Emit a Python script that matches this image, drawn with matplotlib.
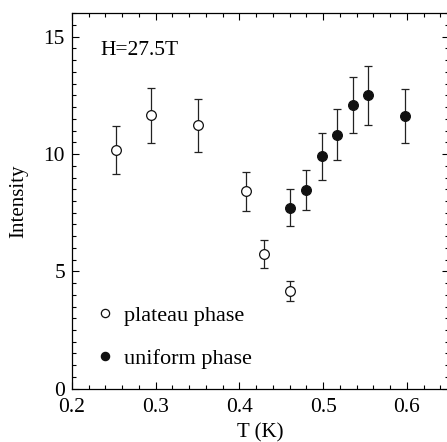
import numpy as np
import matplotlib.pyplot as plt

plt.rcParams['font.family'] = ['Liberation Serif', 'DejaVu Serif']
plt.rcParams['mathtext.fontset'] = 'stix'

# plateau phase (open circles)
T_plateau = [0.253, 0.294, 0.351, 0.408, 0.429, 0.460]
I_plateau = [10.17, 11.65, 11.23, 8.41, 5.74, 4.16]
err_plateau = [1.02, 1.17, 1.13, 0.84, 0.58, 0.43]

# uniform phase (filled circles)
T_uniform = [0.460, 0.479, 0.498, 0.517, 0.536, 0.554, 0.598]
I_uniform = [7.72, 8.48, 9.91, 10.82, 12.09, 12.50, 11.62]
err_uniform = [0.77, 0.85, 1.00, 1.09, 1.21, 1.25, 1.17]

fig = plt.figure(figsize=(4.47, 4.42), dpi=100)
ax = fig.add_axes([0.161, 0.1206, 0.843, 0.8494])

ax.errorbar(T_plateau, I_plateau, yerr=err_plateau, fmt='none',
            ecolor='#222222', elinewidth=0.9, capsize=2.8, capthick=0.9)
ax.errorbar(T_uniform, I_uniform, yerr=err_uniform, fmt='none',
            ecolor='#222222', elinewidth=0.9, capsize=2.8, capthick=0.9)
ax.plot(T_plateau, I_plateau, 'o', ms=7, mfc='white', mec='#111111',
        mew=0.9, ls='none', label='plateau phase', zorder=3)
ax.plot(T_uniform, I_uniform, 'o', ms=7, mfc='#111111', mec='#111111',
        mew=0.9, ls='none', label='uniform phase', zorder=3)

ax.set_xlim(0.2, 0.65)
ax.set_ylim(0, 16)
ax.set_xticks([0.2, 0.3, 0.4, 0.5, 0.6])
ax.set_xticklabels(['0.2', '0.3', '0.4', '0.5', '0.6'])
ax.set_yticks([0, 5, 10, 15])
ax.set_xticks(np.arange(0.2, 0.651, 0.02), minor=True)
ax.set_yticks(np.arange(0, 16.01, 0.5), minor=True)
ax.tick_params(which='both', direction='in', top=True, right=True,
               labelsize=15.5, width=0.8)
ax.tick_params(axis='x', pad=7)
ax.tick_params(axis='y', pad=5)
ax.tick_params(which='major', length=5)
ax.tick_params(which='minor', length=3)
for s in ax.spines.values():
    s.set_linewidth(0.9)

ax.set_xlabel('T (K)', fontsize=15, labelpad=4)
ax.set_ylabel('Intensity', fontsize=15, labelpad=11)

ax.text(0.075, 0.902, 'H=27.5T', transform=ax.transAxes, fontsize=15.5,
        va='center', ha='left')

ax.legend(loc='lower left', bbox_to_anchor=(0.01, 0.0), frameon=False,
          fontsize=16, handlelength=0.8, handletextpad=0.45, labelspacing=1.0,
          numpoints=1, markerscale=0.85)

fig.savefig('out.png', dpi=100)
